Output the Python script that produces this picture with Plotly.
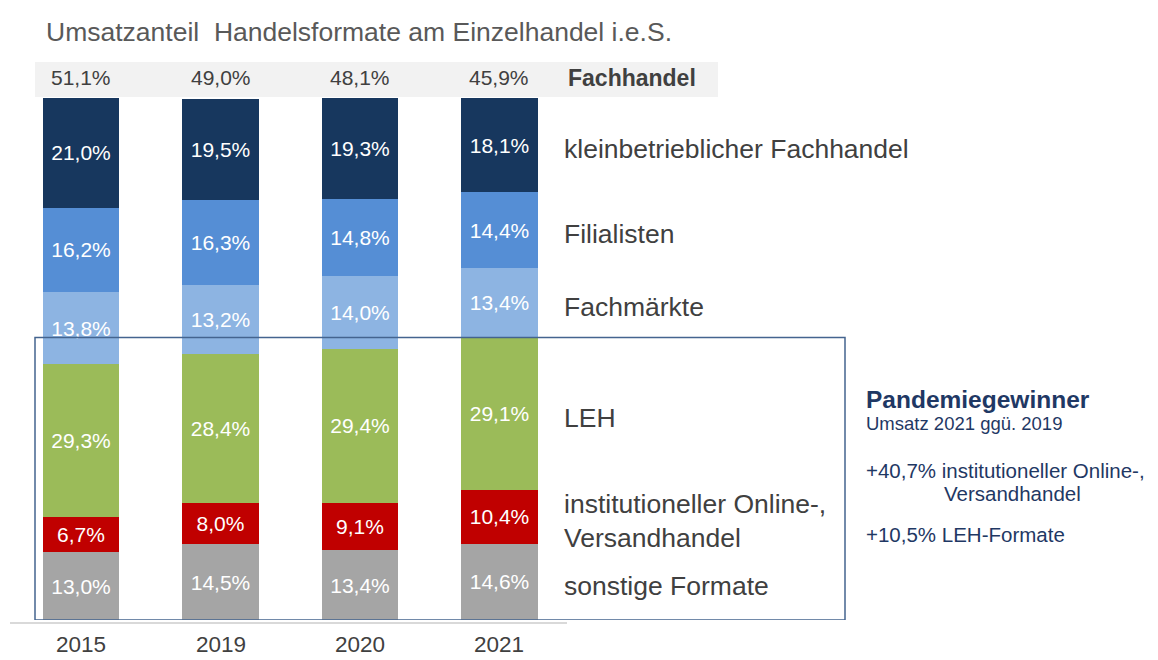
import plotly.graph_objects as go

years = ["2015", "2019", "2020", "2021"]
categories = [
    "sonstige Formate",
    "institutioneller Online-,<br>Versandhandel",
    "LEH",
    "Fachmärkte",
    "Filialisten",
    "kleinbetrieblicher Fachhandel",
]
sonstige = [13.0, 14.5, 13.4, 14.6]
online = [6.7, 8.0, 9.1, 10.4]
leh = [29.3, 28.4, 29.4, 29.1]
fachmaerkte = [13.8, 13.2, 14.0, 13.4]
filialisten = [16.2, 16.3, 14.8, 14.4]
kleinbetrieblich = [21.0, 19.5, 19.3, 18.1]
fachhandel_total = [51.1, 49.0, 48.1, 45.9]

series = [sonstige, online, leh, fachmaerkte, filialisten, kleinbetrieblich]
colors = ["#a5a5a5", "#c00000", "#9bbb59", "#8db4e2", "#558ed5", "#17375e"]

FONT = "Liberation Sans, Arial, sans-serif"
W, H = 1158, 660
L, R, T, B = 10, 591, 98, 40
PW, PH = W - L - R, H - T - B


def px(xp):
    return (xp - L) / PW


def py(yp):
    return (H - B - yp) / PH


def fmt(v):
    return f"{v:.1f}%".replace(".", ",")


xs = list(range(len(years)))
fig = go.Figure()
for name, vals, col in zip(categories, series, colors):
    fig.add_trace(go.Bar(
        x=xs, y=vals, name=name, marker=dict(color=col, line=dict(width=0)),
        width=0.545, text=[fmt(v) for v in vals], textposition="inside",
        insidetextanchor="middle", textangle=0, constraintext="none",
        textfont=dict(family=FONT, size=21, color="white"),
        hoverinfo="skip", showlegend=False,
    ))

ann = []
# title
ann.append(dict(text="Umsatzanteil  Handelsformate am Einzelhandel i.e.S.",
                xref="paper", yref="paper", x=px(44), y=py(32), xanchor="left",
                yanchor="middle", showarrow=False,
                font=dict(family=FONT, size=26.5, color="#595959")))
# header row values
for i, v in enumerate(fachhandel_total):
    ann.append(dict(text=fmt(v), xref="x", yref="paper", x=i, y=py(78),
                    xanchor="center", yanchor="middle", showarrow=False,
                    font=dict(family=FONT, size=21, color="#404040")))
ann.append(dict(text="<b>Fachhandel</b>", xref="paper", yref="paper", x=px(566),
                y=py(78), xanchor="left", yanchor="middle", showarrow=False,
                font=dict(family=FONT, size=23, color="#404040")))
# years
for i, yr in enumerate(years):
    ann.append(dict(text=yr, xref="x", yref="paper", x=i, y=py(659),
                    xanchor="center", yanchor="bottom", showarrow=False,
                    font=dict(family=FONT, size=22.5, color="#404040")))
# category labels on the right, aligned with the 2021 bar
cum = 0
last = len(years) - 1
for name, vals in zip(categories, series):
    c = cum + vals[last] / 2
    cum += vals[last]
    ann.append(dict(text=name, xref="paper", yref="y", x=px(562), y=c,
                    yshift=-4, xanchor="left", yanchor="middle", align="left",
                    showarrow=False,
                    font=dict(family=FONT, size=26.5, color="#404040")))
# Pandemiegewinner block
navy = "#1f3864"
ann.append(dict(text="<b>Pandemiegewinner</b>", xref="paper", yref="paper",
                x=px(864), y=py(399), xanchor="left", yanchor="middle",
                showarrow=False, font=dict(family=FONT, size=24.5, color=navy)))
ann.append(dict(text="Umsatz 2021 ggü. 2019", xref="paper", yref="paper",
                x=px(864), y=py(424), xanchor="left", yanchor="middle",
                showarrow=False, font=dict(family=FONT, size=18.5, color=navy)))
ann.append(dict(text="+40,7% institutioneller Online-,", xref="paper", yref="paper",
                x=px(864), y=py(470), xanchor="left", yanchor="middle",
                showarrow=False, font=dict(family=FONT, size=20.5, color=navy)))
ann.append(dict(text="Versandhandel", xref="paper", yref="paper",
                x=px(942), y=py(493), xanchor="left", yanchor="middle",
                showarrow=False, font=dict(family=FONT, size=20.5, color=navy)))
ann.append(dict(text="+10,5% LEH-Formate", xref="paper", yref="paper",
                x=px(864), y=py(534), xanchor="left", yanchor="middle",
                showarrow=False, font=dict(family=FONT, size=20.5, color=navy)))

box_top = sonstige[last] + online[last] + leh[last]
shapes = [
    dict(type="rect", xref="paper", yref="paper", x0=px(35), x1=px(718),
         y0=py(97), y1=py(62), fillcolor="#f2f2f2", line=dict(width=0),
         layer="below"),
    dict(type="line", xref="paper", yref="paper", x0=0, x1=1, y0=py(623),
         y1=py(623), line=dict(color="#d9d9d9", width=2)),
    dict(type="rect", xref="paper", yref="y", x0=px(35), x1=px(845),
         y0=0, y1=box_top, line=dict(color="#44648f", width=1.5),
         fillcolor="rgba(0,0,0,0)", layer="above"),
]

fig.update_layout(
    barmode="stack", width=W, height=H, autosize=False,
    margin=dict(l=L, r=R, t=T, b=B, pad=0),
    paper_bgcolor="white", plot_bgcolor="white",
    xaxis=dict(range=[-0.509, 3.484], visible=False, fixedrange=True),
    yaxis=dict(range=[0, 100], visible=False, fixedrange=True),
    annotations=ann, shapes=shapes,
    uniformtext=dict(minsize=21, mode="show"),
    font=dict(family=FONT),
)
fig.write_html("out.html", config={"displayModeBar": False},
               post_script="document.body.style.margin='0';document.body.style.overflow='hidden';")
